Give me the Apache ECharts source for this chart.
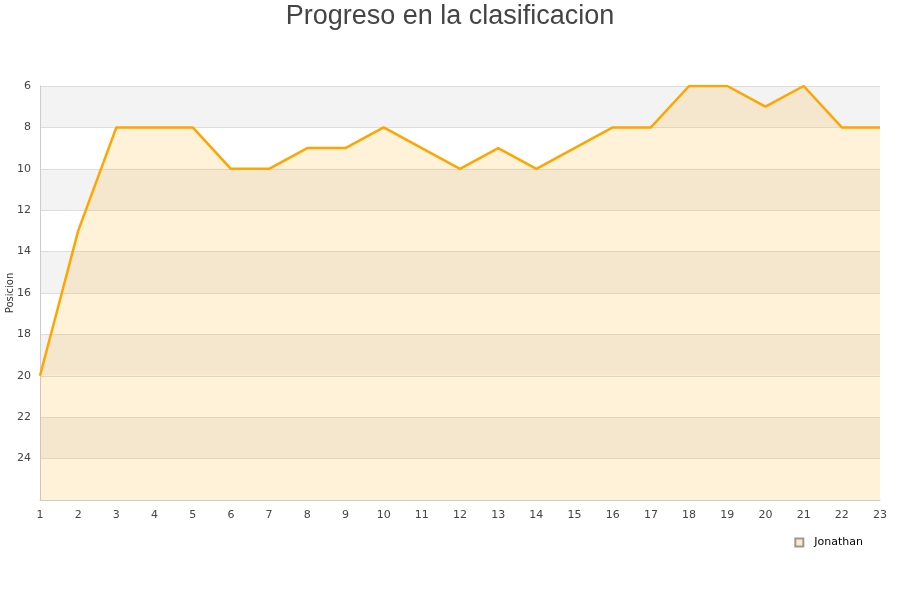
<!DOCTYPE html>
<html><head><meta charset="utf-8">
<script src="https://cdn.jsdelivr.net/npm/echarts@6/dist/echarts.min.js"></script>
<style>html,body{margin:0;padding:0;background:#fff}#c{width:900px;height:600px}</style>
</head><body><div id="c"></div>
<script>
var jornadas = ['1','2','3','4','5','6','7','8','9','10','11','12','13','14','15','16','17','18','19','20','21','22','23'];
var posiciones = [20,13,8,8,8,10,10,9,9,8,9,10,9,10,9,8,8,6,6,7,6,8,8];
var yTicks = {min:6, max:26, interval:2};
var chart = echarts.init(document.getElementById('c'));
chart.setOption({
  animation:false,
  title:{text:'Progreso en la clasificacion', left:'center', top:-2,
    textStyle:{fontFamily:'Liberation Sans', fontSize:27, fontWeight:'normal', color:'#444'}},
  grid:{left:40, right:20, top:86, bottom:100, containLabel:false, outerBoundsMode:'none'},
  legend:{data:['Jonathan'], right:32, top:532, itemWidth:8, itemHeight:8, icon:'rect',
    textStyle:{fontFamily:'DejaVu Sans', fontSize:11, color:'#000', padding:[0,0,0,6]}},
  xAxis:{type:'category', data:jornadas, boundaryGap:false,
    axisLine:{lineStyle:{color:'#ccc'}}, axisTick:{show:false},
    axisLabel:{fontFamily:'DejaVu Sans', fontSize:11, color:'#444', margin:10},
    splitLine:{show:false}},
  yAxis:{type:'value', inverse:true, min:yTicks.min, max:yTicks.max, interval:yTicks.interval,
    name:'Posicion', nameLocation:'middle', nameGap:25, nameMoveOverlap:false,
    nameTextStyle:{fontFamily:'DejaVu Sans', fontSize:10, color:'#333'},
    axisLine:{show:true, lineStyle:{color:'#ccc'}}, axisTick:{show:false},
    axisLabel:{fontFamily:'DejaVu Sans', fontSize:11, color:'#444', margin:9,
      formatter:function(v){return v===26?'':v;}},
    splitLine:{lineStyle:{color:'#ddd'}},
    splitArea:{show:true, areaStyle:{color:['#f3f3f3','#ffffff']}}},
  series:[{name:'Jonathan', type:'line', data:posiciones, showSymbol:false, symbol:'none',
    lineStyle:{color:'#ffa500', width:2.5},
    itemStyle:{color:'#fdebc8', borderColor:'#999', borderWidth:1},
    areaStyle:{color:'rgba(255,165,0,0.21)', origin:'end'}}]
});
</script></body></html>
